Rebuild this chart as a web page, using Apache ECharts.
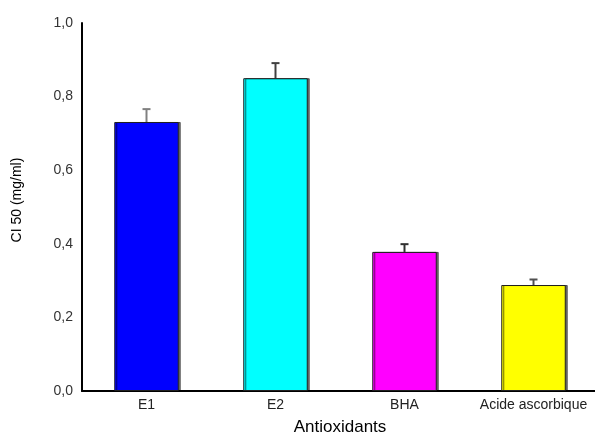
<!DOCTYPE html>
<html>
<head>
<meta charset="utf-8">
<script src="https://cdn.jsdelivr.net/npm/echarts@6/dist/echarts.min.js"></script>
<style>
html,body{margin:0;padding:0;background:#fff;}
#chart{width:595px;height:435px;}
</style>
</head>
<body>
<div id="chart"></div>
<script>
// IC50 values (mg/ml) with standard deviations
var categories = ['E1', 'E2', 'BHA', 'Acide ascorbique'];
var values = [0.731, 0.850, 0.378, 0.288];
var errors = [0.035, 0.041, 0.021, 0.015];
var barColors = ['#0000ff', '#00ffff', '#ff00ff', '#ffff00'];
var errColors = ['#808080', '#404040', '#303030', '#505050'];
var yTicks = ['0,0', '0,2', '0,4', '0,6', '0,8', '1,0'];

var chart = echarts.init(document.getElementById('chart'), null, {renderer: 'canvas'});

var barData = values.map(function (v, i) {
  return {
    value: v,
    itemStyle: {
      color: barColors[i],
      borderColor: '#202020',
      borderWidth: 1,
      shadowColor: 'rgba(0,0,0,0.55)',
      shadowOffsetX: 2,
      shadowOffsetY: 0,
      shadowBlur: 0
    }
  };
});

var errData = values.map(function (v, i) { return [i, v, v + errors[i]]; });

chart.setOption({
  animation: false,
  backgroundColor: '#ffffff',
  grid: {left: 82, right: -3, top: 23, bottom: 44, containLabel: false, outerBoundsMode: 'none'},
  xAxis: {
    type: 'category',
    data: categories,
    name: 'Antioxidants',
    nameLocation: 'middle',
    nameGap: 28,
    nameTextStyle: {fontFamily: 'Liberation Sans', fontSize: 17, color: '#000'},
    axisLine: {lineStyle: {color: '#000', width: 2}},
    axisTick: {show: false},
    axisLabel: {fontFamily: 'Liberation Sans', fontSize: 14, color: '#222', margin: 7, interval: 0},
    splitLine: {show: false}
  },
  yAxis: {
    type: 'value',
    min: 0,
    max: 1,
    interval: 0.2,
    name: 'CI 50 (mg/ml)',
    nameLocation: 'middle',
    nameGap: 58,
    nameRotate: 90,
    nameTextStyle: {fontFamily: 'Liberation Sans', fontSize: 14, color: '#000', padding: [0, 0, 0, 14]},
    axisLine: {show: true, lineStyle: {color: '#000', width: 2}},
    axisTick: {show: false},
    axisLabel: {
      fontFamily: 'Liberation Sans', fontSize: 14, color: '#333', margin: 9,
      formatter: function (v) { return yTicks[Math.round(v * 5)]; }
    },
    splitLine: {show: false}
  },
  series: [
    {
      type: 'bar',
      data: barData,
      barWidth: '50%'
    },
    {
      type: 'custom',
      data: errData,
      z: 1,
      renderItem: function (params, api) {
        var i = api.value(0);
        var base = api.coord([i, api.value(1)]);
        var top = api.coord([i, api.value(2)]);
        var hw = 4;
        var style = {stroke: errColors[params.dataIndex], lineWidth: 2};
        return {
          type: 'group',
          children: [
            {type: 'line', shape: {x1: base[0], y1: base[1], x2: top[0], y2: top[1]}, style: style},
            {type: 'line', shape: {x1: top[0] - hw, y1: top[1], x2: top[0] + hw, y2: top[1]}, style: style}
          ]
        };
      }
    }
  ]
});
</script>
</body>
</html>
